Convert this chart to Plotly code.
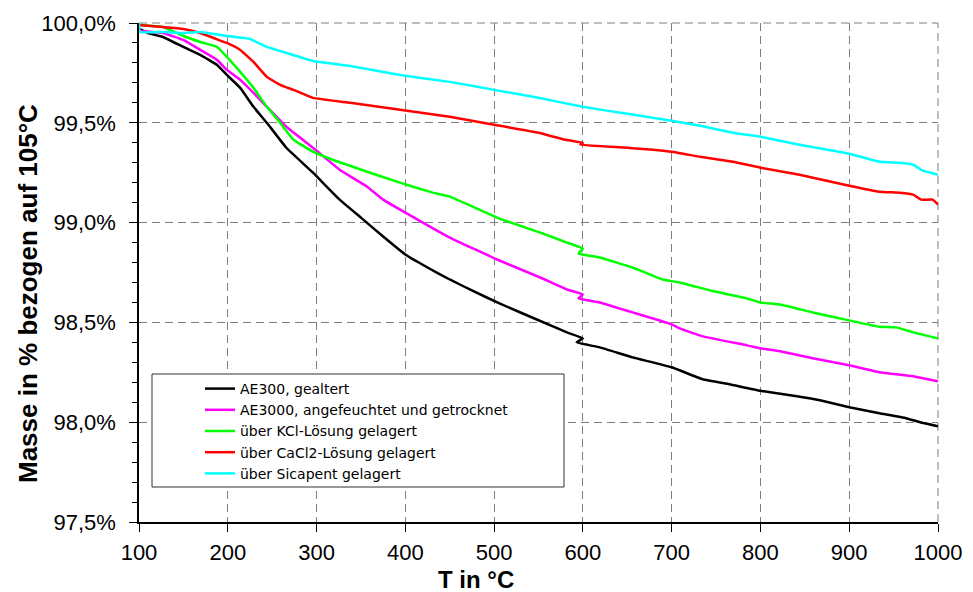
import plotly.graph_objects as go

# Thermogravimetrie: Masse (bezogen auf 105 °C) über der Temperatur
t_ae300 = [100, 110, 127, 150, 169, 188, 199, 214, 229, 244, 266, 296, 326, 350, 375, 400,
           425, 450, 475, 506, 552, 582, 600, 593, 619, 656, 700, 735, 765, 800, 841, 867,
           900, 934, 964, 980, 1000]
m_ae300 = [99.97, 99.95, 99.93, 99.88, 99.84, 99.79, 99.74, 99.675, 99.58, 99.50, 99.375,
           99.25, 99.115, 99.025, 98.93, 98.84, 98.775, 98.715, 98.66, 98.595, 98.507, 98.45,
           98.42, 98.40, 98.375, 98.325, 98.275, 98.215, 98.19, 98.157, 98.13, 98.11, 98.075,
           98.045, 98.02, 98.00, 97.98]

t_ae3000 = [100, 127, 150, 169, 188, 199, 214, 229, 244, 266, 296, 326, 357, 375, 400, 450,
            506, 552, 582, 600, 595, 619, 656, 700, 709, 735, 785, 800, 822, 859, 900, 934,
            972, 1000]
m_ae3000 = [99.96, 99.95, 99.915, 99.865, 99.815, 99.765, 99.715, 99.65, 99.58, 99.48, 99.375,
            99.265, 99.18, 99.115, 99.05, 98.925, 98.81, 98.725, 98.665, 98.64, 98.62, 98.60,
            98.55, 98.49, 98.47, 98.43, 98.385, 98.37, 98.355, 98.32, 98.285, 98.25, 98.23,
            98.205]

t_kcl = [100, 127, 150, 169, 188, 199, 214, 229, 244, 259, 274, 296, 318, 357, 394, 431, 450,
         506, 552, 582, 600, 595, 619, 656, 690, 709, 746, 785, 800, 822, 859, 900, 934, 953,
         972, 1000]
m_kcl = [99.99, 99.98, 99.935, 99.905, 99.88, 99.83, 99.755, 99.675, 99.58, 99.50, 99.415,
         99.355, 99.315, 99.255, 99.20, 99.15, 99.13, 99.02, 98.95, 98.90, 98.87, 98.845,
         98.825, 98.775, 98.715, 98.70, 98.657, 98.62, 98.60, 98.59, 98.55, 98.51, 98.478,
         98.475, 98.45, 98.42]

t_cacl2 = [100, 127, 150, 169, 184, 199, 214, 229, 244, 259, 274, 296, 338, 394, 450, 500,
           550, 580, 600, 597, 650, 700, 732, 769, 800, 844, 900, 934, 957, 972, 981, 994, 1000]
m_cacl2 = [99.99, 99.98, 99.97, 99.95, 99.925, 99.90, 99.865, 99.805, 99.73, 99.69, 99.665,
           99.625, 99.60, 99.565, 99.53, 99.49, 99.45, 99.415, 99.40, 99.39, 99.375, 99.355,
           99.33, 99.305, 99.275, 99.24, 99.185, 99.155, 99.15, 99.14, 99.115, 99.115, 99.09]

t_sica = [100, 101, 127, 150, 169, 199, 225, 244, 266, 296, 338, 394, 450, 500, 550, 600, 650,
          700, 732, 769, 800, 844, 900, 934, 957, 972, 983, 1000]
m_sica = [100.0, 99.955, 99.955, 99.95, 99.955, 99.935, 99.92, 99.88, 99.85, 99.81, 99.785,
          99.74, 99.705, 99.665, 99.625, 99.58, 99.545, 99.51, 99.485, 99.45, 99.43, 99.39,
          99.345, 99.305, 99.30, 99.29, 99.26, 99.24]

series = [
    ("AE300, gealtert", t_ae300, m_ae300, "#000000"),
    ("AE3000, angefeuchtet und getrocknet", t_ae3000, m_ae3000, "#FF00FF"),
    ("über KCl-Lösung gelagert", t_kcl, m_kcl, "#00FF00"),
    ("über CaCl2-Lösung gelagert", t_cacl2, m_cacl2, "#FF0000"),
    ("über Sicapent gelagert", t_sica, m_sica, "#00FFFF"),
]

FONT = "Liberation Sans, Arial, sans-serif"
W, H = 973, 592
ML, MR, MT, MB = 139, 35, 23, 70
PW, PH = W - ML - MR, H - MT - MB
GRID_COLOR = "#7f7f7f"
GRID_DASH = "8px,5px"


def px_x(p):
    return (p - ML) / PW


def px_y(p):
    return (H - MB - p) / PH


fig = go.Figure()
for name, t, m, col in series:
    fig.add_trace(go.Scatter(x=t, y=m, mode="lines", name=name,
                             line=dict(color=col, width=2.5, shape="spline", smoothing=0.3)))

grid = dict(showgrid=True, gridcolor=GRID_COLOR, gridwidth=1, griddash=GRID_DASH)

fig.update_layout(
    width=W, height=H,
    margin=dict(l=ML, r=MR, t=MT, b=MB),
    plot_bgcolor="white", paper_bgcolor="white",
    separators=",.",
    font=dict(family=FONT, color="black"),
    showlegend=True,
    legend=dict(x=px_x(200), y=px_y(373), xanchor="left", yanchor="top",
                bgcolor="rgba(0,0,0,0)", borderwidth=0,
                font=dict(family="DejaVu Sans, " + FONT, size=14, color="black"),
                tracegroupgap=0),
    xaxis=dict(range=[100, 1000], dtick=100, tick0=100, **grid,
               showline=True, linecolor="black", linewidth=1.5,
               ticks="outside", ticklen=8, tickcolor="black", ticklabelstandoff=2,
               tickfont=dict(size=22), zeroline=False),
    yaxis=dict(range=[97.5, 100], dtick=0.5, tick0=97.5, **grid,
               tickformat=".1f", ticksuffix="%",
               showline=True, linecolor="black", linewidth=1.5,
               ticks="outside", ticklen=8, tickcolor="black", ticklabelstandoff=9,
               minor=dict(dtick=0.1, ticks="outside", ticklen=5, tickcolor="black", showgrid=False),
               tickfont=dict(size=22), zeroline=False),
    shapes=[
        # dashed frame lines along the top and right edges of the plot area
        dict(type="line", xref="paper", yref="paper", x0=0, x1=1, y0=1, y1=1,
             line=dict(color=GRID_COLOR, width=1, dash=GRID_DASH), layer="below"),
        dict(type="line", xref="paper", yref="paper", x0=1, x1=1, y0=0, y1=1,
             line=dict(color=GRID_COLOR, width=1, dash=GRID_DASH), layer="below"),
        # legend frame
        dict(type="rect", xref="paper", yref="paper",
             x0=px_x(152), x1=px_x(564), y0=px_y(487), y1=px_y(374),
             fillcolor="white", line=dict(color="#333333", width=1), layer="above"),
    ],
    annotations=[
        dict(text="<b>T in °C</b>", xref="paper", yref="paper",
             x=px_x(476), y=px_y(579), xanchor="center", yanchor="middle",
             showarrow=False, font=dict(size=24, family=FONT)),
        dict(text="<b>Masse in % bezogen auf 105°C</b>", xref="paper", yref="paper",
             x=px_x(28), y=px_y(294), xanchor="center", yanchor="middle", textangle=-90,
             showarrow=False, font=dict(size=26, family=FONT)),
    ],
)

fig.write_html("out.html")
